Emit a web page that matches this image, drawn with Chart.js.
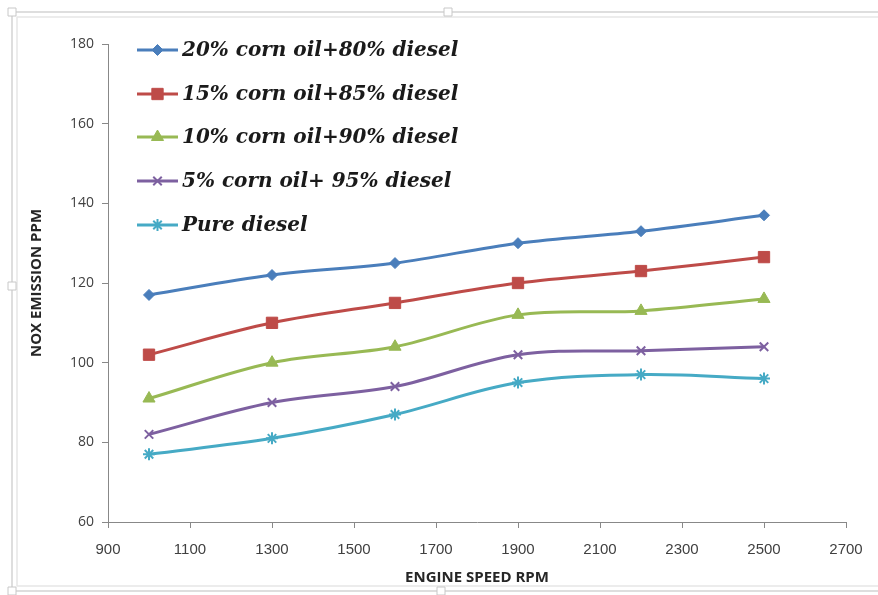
<!DOCTYPE html>
<html>
<head>
<meta charset="utf-8">
<script src="https://cdn.jsdelivr.net/npm/chart.js@4/dist/chart.umd.min.js"></script>
<style>
  html, body { margin: 0; padding: 0; background: #ffffff; }
  #wrap { position: relative; width: 878px; height: 595px; }
</style>
</head>
<body>
<div id="wrap"><canvas id="c" width="878" height="595"></canvas></div>
<script>
// Engine speed (RPM) at which NOx was measured
const engineSpeed = [1000, 1300, 1600, 1900, 2200, 2500];

// NOx emission (ppm) for each fuel blend
const blend20 = [117, 122, 125, 130, 133, 137];
const blend15 = [102, 110, 115, 120, 123, 126.5];
const blend10 = [91, 100, 104, 112, 113, 116];
const blend5  = [82, 90, 94, 102, 103, 104];
const pureDiesel = [77, 81, 87, 95, 97, 96];

const seriesNames = [
  '20% corn oil+80% diesel',
  '15% corn oil+85% diesel',
  '10% corn oil+90% diesel',
  '5% corn oil+ 95% diesel',
  'Pure diesel'
];

const xTicks = [900, 1100, 1300, 1500, 1700, 1900, 2100, 2300, 2500, 2700];
const yTicks = [60, 80, 100, 120, 140, 160, 180];

const seriesValues = [blend20, blend15, blend10, blend5, pureDiesel];
const seriesColors = ['#4a7ebb', '#be4b48', '#98b954', '#7d60a0', '#46aac5'];
const seriesPoints = ['rectRot', 'rect', 'triangle', 'crossRot', 'star'];
const seriesRadius = [5.5, 8, 7, 6, 6];

const datasets = seriesValues.map((vals, i) => ({
  label: seriesNames[i],
  data: vals.map((v, k) => ({ x: engineSpeed[k], y: v })),
  borderColor: seriesColors[i],
  backgroundColor: seriesColors[i],
  borderWidth: 3,
  pointStyle: seriesPoints[i],
  pointRadius: seriesRadius[i],
  pointBorderWidth: (seriesPoints[i] === 'crossRot' || seriesPoints[i] === 'star') ? 2 : 1,
  pointBorderColor: seriesColors[i],
  tension: 0.35,
  fill: false
}));

// Light double frame with resize handles around the chart
const framePlugin = {
  id: 'frame',
  beforeDraw(chart) {
    const ctx = chart.ctx;
    ctx.save();
    ctx.fillStyle = '#ffffff';
    ctx.fillRect(0, 0, chart.width, chart.height);
    ctx.strokeStyle = '#d4d4d4';
    ctx.lineWidth = 1.5;
    ctx.beginPath();
    ctx.moveTo(900, 12); ctx.lineTo(12, 12); ctx.lineTo(12, 591); ctx.lineTo(900, 591);
    ctx.stroke();
    ctx.strokeStyle = '#e6e6e6';
    ctx.beginPath();
    ctx.moveTo(900, 17); ctx.lineTo(17, 17); ctx.lineTo(17, 586); ctx.lineTo(900, 586);
    ctx.stroke();
    const handles = [[12, 12], [448, 12], [12, 286], [12, 591], [441, 591]];
    ctx.fillStyle = '#ffffff';
    ctx.strokeStyle = '#c8c8c8';
    ctx.lineWidth = 1;
    handles.forEach(([hx, hy]) => {
      ctx.beginPath();
      ctx.rect(hx - 4, hy - 4, 8, 8);
      ctx.fill();
      ctx.stroke();
    });
    ctx.restore();
  }
};

// Legend drawn inside the plot, top-left
const insideLegend = {
  id: 'insideLegend',
  afterDraw(chart) {
    const ctx = chart.ctx;
    const rowY = [50, 94, 137, 181, 225];
    ctx.save();
    chart.data.datasets.forEach((ds, i) => {
      const y = rowY[i];
      ctx.strokeStyle = ds.borderColor;
      ctx.lineWidth = 3;
      ctx.beginPath();
      ctx.moveTo(137, y);
      ctx.lineTo(178, y);
      ctx.stroke();
      ctx.fillStyle = ds.backgroundColor;
      ctx.strokeStyle = ds.borderColor;
      ctx.lineWidth = ds.pointBorderWidth;
      Chart.helpers.drawPoint(ctx, { pointStyle: ds.pointStyle, radius: ds.pointRadius, borderWidth: ds.pointBorderWidth, rotation: 0 }, 157.5, y);
      ctx.fillStyle = '#1a1a1a';
      ctx.font = 'italic bold 20px "DejaVu Serif", "Liberation Serif", serif';
      ctx.textBaseline = 'middle';
      ctx.textAlign = 'left';
      ctx.fillText(ds.label, 182, y + 1);
    });
    ctx.restore();
  }
};

new Chart(document.getElementById('c'), {
  type: 'line',
  data: { datasets },
  plugins: [framePlugin, insideLegend],
  options: {
    responsive: false,
    animation: false,
    devicePixelRatio: 1,
    layout: { padding: { left: 28, top: 44, right: 32, bottom: 0 } },
    plugins: { legend: { display: false }, tooltip: { enabled: false } },
    scales: {
      x: {
        type: 'linear',
        min: 900,
        max: 2700,
        afterBuildTicks(scale) { scale.ticks = xTicks.map(v => ({ value: v })); },
        afterFit(scale) { scale.height = 73; },
        grid: { display: true, drawOnChartArea: false, drawTicks: true, tickLength: 6, tickColor: '#888888' },
        border: { color: '#888888', width: 1 },
        ticks: { color: '#404040', font: { family: '"Liberation Sans Narrow", "Liberation Sans", sans-serif', size: 15 }, padding: 13, maxRotation: 0, callback: v => String(v) },
        title: { display: true, text: 'ENGINE SPEED RPM', color: '#262626', font: { family: '"Open Sans", sans-serif', size: 15, weight: 'bold' }, padding: { top: 0, bottom: 8 } }
      },
      y: {
        min: 60,
        max: 180,
        afterBuildTicks(scale) { scale.ticks = yTicks.map(v => ({ value: v })); },
        afterFit(scale) { scale.width = 80; },
        grid: { display: true, drawOnChartArea: false, drawTicks: true, tickLength: 6, tickColor: '#888888' },
        border: { color: '#888888', width: 1 },
        ticks: { color: '#404040', font: { family: '"Open Sans", sans-serif', size: 14 }, padding: 8, callback: v => String(v) },
        title: { display: true, text: 'NOX EMISSION PPM', color: '#262626', font: { family: '"Open Sans", sans-serif', size: 15, weight: 'bold' }, padding: { top: 0, bottom: 4 } }
      }
    }
  }
});
</script>
</body>
</html>
